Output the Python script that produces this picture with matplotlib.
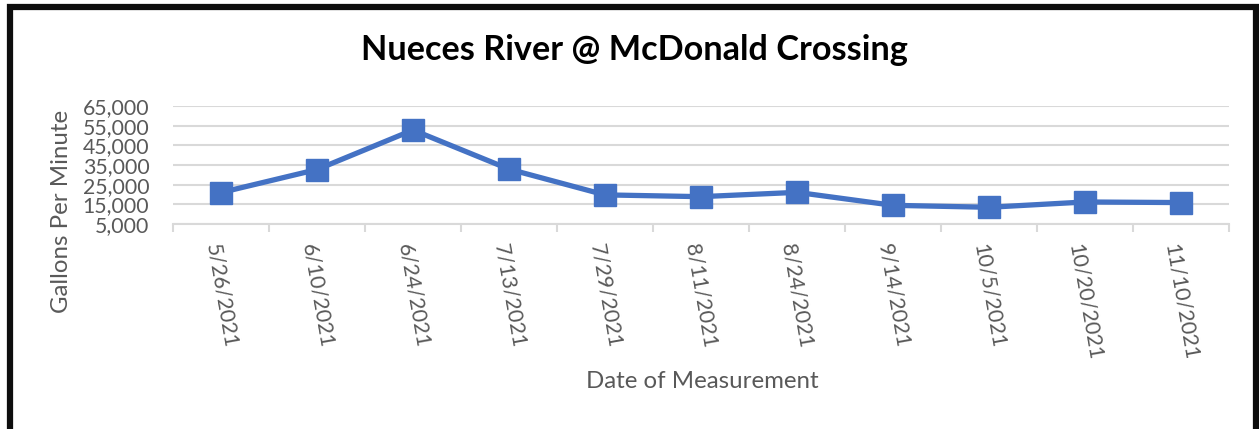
import matplotlib.pyplot as plt
from matplotlib.patches import Rectangle

plt.rcParams['font.family'] = ['Lato', 'DejaVu Sans']

dates = ["5/26/2021", "6/10/2021", "6/24/2021", "7/13/2021", "7/29/2021", "8/11/2021",
         "8/24/2021", "9/14/2021", "10/5/2021", "10/20/2021", "11/10/2021"]
gpm = [21000, 32700, 52800, 32900, 19800, 18900, 21100, 14500, 13500, 16200, 15900]
yticks = [5000, 15000, 25000, 35000, 45000, 55000, 65000]

W, H = 1259, 429
fig = plt.figure(figsize=(W / 100, H / 100), dpi=100)
ax = fig.add_axes([173 / W, 1 - 224 / H, (1229 - 173) / W, (224 - 106) / H])

x = list(range(len(dates)))
ax.plot(x, gpm, color='#4472C4', linewidth=3.8, marker='s', markersize=16,
        markeredgecolor='#4472C4', zorder=3)

# axes styling
ax.set_xlim(-0.5, len(dates) - 0.5)
ax.set_ylim(5000, 65000)
ax.set_yticks(yticks)
ax.set_yticklabels(["{:,}".format(v) for v in yticks])
ax.grid(axis='y', color='#D9D9D9', linewidth=1.5)
ax.set_axisbelow(True)
for s in ['top', 'right', 'left']:
    ax.spines[s].set_visible(False)
ax.spines['bottom'].set_color('#D9D9D9')
ax.spines['bottom'].set_linewidth(1.5)

ax.set_xticks(x)
ax.set_xticklabels(dates, rotation=-80, ha='center', va='top')
ax.set_xticks([i - 0.5 for i in range(len(dates) + 1)], minor=True)
ax.tick_params(axis='x', which='major', length=0, pad=13, labelsize=15.3, labelcolor='#595959')
ax.tick_params(axis='x', which='minor', length=6, width=1.5, color='#D9D9D9')
ax.tick_params(axis='y', length=0, pad=17, labelsize=15.3, labelcolor='#595959')

fig.text(634 / W, 1 - 50 / H, "Nueces River @ McDonald Crossing", fontsize=24.7,
         fontweight='bold', ha='center', va='center', color='black')
fig.text(61 / W, 1 - 211 / H, "Gallons Per Minute", rotation=90, fontsize=17.3,
         color='#595959', ha='center', va='center')
fig.text(702 / W, 1 - 381 / H, "Date of Measurement", fontsize=17.3,
         color='#595959', ha='center', va='center')

# black frame around the chart
fig.patches.append(Rectangle((10 / W, 1 - 431 / H), (1256 - 10) / W, (431 - 7) / H,
                             transform=fig.transFigure, fill=False,
                             edgecolor='#0D0D0D', linewidth=4.5))

fig.savefig("out.png", dpi=100)
